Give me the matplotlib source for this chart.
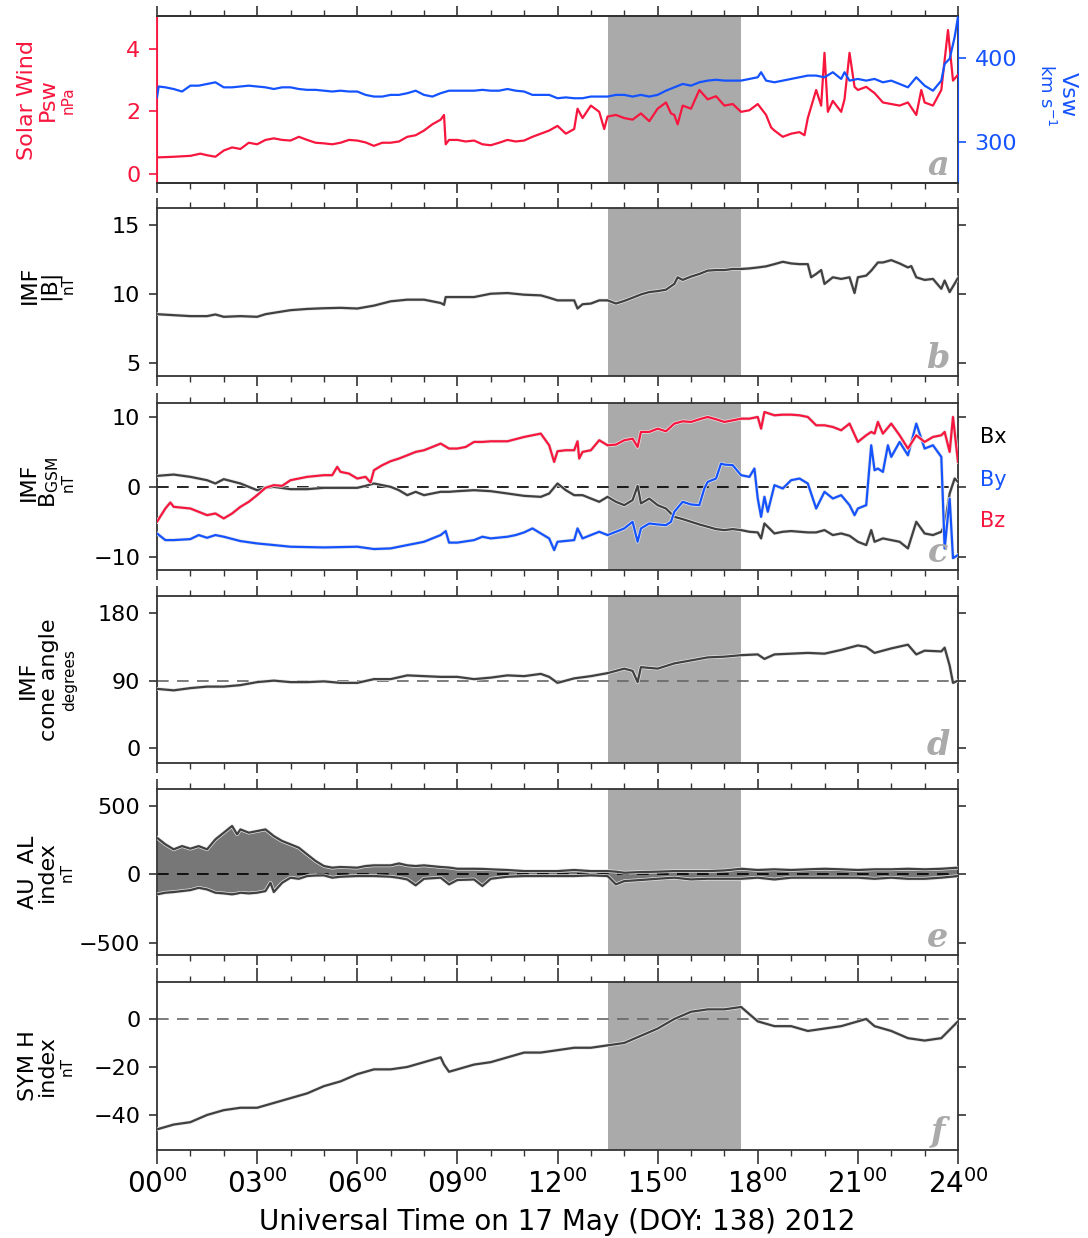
import matplotlib
matplotlib.use("Agg")
import matplotlib.pyplot as plt
import matplotlib.patheffects as pe
from matplotlib import font_manager
from matplotlib.ticker import MultipleLocator
import numpy as np

# ---- panel a: solar wind dynamic pressure (nPa) and speed (km/s)
t_psw = [0, 0.5, 1, 1.3, 1.5, 1.75, 2, 2.25, 2.5, 2.75, 3, 3.25, 3.5, 3.75, 4, 4.25, 4.5, 4.75,
         5, 5.25, 5.5, 5.75, 6, 6.25, 6.5, 6.75, 7, 7.25, 7.5, 7.75, 8, 8.25, 8.5, 8.6, 8.65, 8.75,
         9, 9.25, 9.5, 9.75, 10, 10.25, 10.5, 10.75, 11, 11.25, 11.5, 11.75, 12, 12.25, 12.5, 12.6,
         12.75, 13, 13.25, 13.4, 13.5, 13.75, 14, 14.25, 14.5, 14.75, 15, 15.25, 15.4, 15.5, 15.6,
         15.75, 16, 16.25, 16.5, 16.75, 17, 17.25, 17.5, 17.75, 18, 18.25, 18.4, 18.5, 18.75, 19,
         19.25, 19.4, 19.5, 19.75, 19.9, 20, 20.1, 20.25, 20.5, 20.6, 20.75, 20.9, 21, 21.25, 21.5,
         21.75, 22, 22.25, 22.5, 22.75, 22.9, 23, 23.25, 23.5, 23.7, 23.85, 24]
psw = [0.52, 0.54, 0.57, 0.64, 0.59, 0.54, 0.74, 0.84, 0.79, 0.99, 0.94, 1.08, 1.13, 1.08, 1.06,
       1.18, 1.08, 0.99, 0.97, 0.94, 0.99, 1.08, 1.06, 1.0, 0.89, 0.99, 0.99, 1.03, 1.18, 1.23,
       1.38, 1.58, 1.73, 1.88, 0.94, 1.08, 1.08, 1.03, 1.06, 0.94, 0.91, 0.99, 1.08, 1.03, 1.06,
       1.18, 1.28, 1.38, 1.53, 1.28, 1.43, 2.08, 1.78, 2.18, 1.98, 1.43, 1.83, 1.88, 1.78, 1.73,
       1.93, 1.68, 2.08, 2.28, 1.93, 1.88, 1.58, 2.18, 2.08, 2.68, 2.38, 2.48, 2.18, 2.23, 1.98,
       2.03, 2.23, 1.88, 1.48, 1.38, 1.18, 1.28, 1.33, 1.23, 1.78, 2.68, 2.18, 3.87, 1.98, 2.33,
       1.98, 2.38, 3.87, 2.78, 2.68, 2.78, 2.58, 2.28, 2.23, 2.18, 2.28, 1.88, 2.68, 2.28, 2.18,
       2.68, 4.6, 2.98, 3.17]

t_vsw = [0, 0.05, 0.25, 0.5, 0.75, 1, 1.25, 1.5, 1.75, 2, 2.25, 2.5, 2.75, 3, 3.25, 3.5, 3.75, 4,
         4.25, 4.5, 4.75, 5, 5.25, 5.5, 5.75, 6, 6.25, 6.5, 6.75, 7, 7.25, 7.5, 7.75, 8, 8.25, 8.5,
         8.75, 9, 9.25, 9.5, 9.75, 10, 10.25, 10.5, 10.75, 11, 11.25, 11.5, 11.75, 12, 12.25, 12.5,
         12.75, 13, 13.25, 13.5, 13.75, 14, 14.25, 14.5, 14.75, 15, 15.25, 15.5, 15.75, 16, 16.25,
         16.5, 16.75, 17, 17.25, 17.5, 17.75, 18, 18.1, 18.25, 18.5, 18.75, 19, 19.25, 19.5, 19.75,
         20, 20.25, 20.5, 20.6, 20.75, 21, 21.25, 21.5, 21.75, 22, 22.25, 22.5, 22.75, 23, 23.25,
         23.5, 23.6, 23.75, 23.9, 24]
vsw = [353, 366, 365, 363, 360, 367, 367, 369, 371, 365, 365, 366, 367, 366, 365, 363, 365, 365,
       363, 362, 362, 361, 360, 361, 360, 360, 356, 354, 354, 356, 356, 358, 361, 356, 354, 358,
       361, 361, 361, 361, 362, 361, 361, 363, 361, 360, 356, 356, 356, 352, 353, 352, 352, 354,
       354, 354, 356, 356, 354, 356, 354, 356, 361, 365, 369, 367, 371, 373, 374, 373, 373, 373,
       375, 377, 383, 373, 371, 373, 375, 377, 379, 379, 377, 383, 375, 383, 373, 375, 373, 375,
       371, 373, 369, 365, 377, 367, 361, 373, 393, 399, 425, 449]

# ---- panel b: IMF |B| (nT)
t_bt = [0, 0.5, 1, 1.5, 1.75, 2, 2.5, 3, 3.25, 3.5, 4, 4.5, 5, 5.5, 6, 6.5, 7, 7.5, 8, 8.5, 8.6,
        8.65, 9, 9.5, 10, 10.5, 11, 11.5, 11.75, 12, 12.5, 12.6, 12.75, 13, 13.25, 13.5, 13.75, 14,
        14.25, 14.5, 14.75, 15, 15.25, 15.5, 15.6, 15.75, 16, 16.25, 16.5, 16.75, 17, 17.25, 17.5,
        17.75, 18, 18.25, 18.5, 18.75, 19, 19.25, 19.5, 19.6, 19.75, 19.9, 20, 20.25, 20.5, 20.75,
        20.9, 21, 21.25, 21.4, 21.6, 21.75, 22, 22.25, 22.5, 22.6, 22.75, 23, 23.25, 23.5, 23.6,
        23.75, 24]
bt = [8.52, 8.45, 8.38, 8.38, 8.5, 8.33, 8.38, 8.33, 8.52, 8.62, 8.81, 8.9, 8.95, 8.98, 8.93,
      9.14, 9.45, 9.57, 9.57, 9.33, 9.2, 9.76, 9.76, 9.76, 10.0, 10.05, 9.93, 9.88, 9.71, 9.52,
      9.52, 8.93, 9.24, 9.29, 9.52, 9.52, 9.29, 9.48, 9.71, 9.95, 10.12, 10.19, 10.29, 10.71,
      11.19, 11.0, 11.24, 11.43, 11.67, 11.71, 11.71, 11.79, 11.79, 11.83, 11.9, 11.98, 12.14,
      12.31, 12.19, 12.14, 12.14, 11.19, 11.43, 11.71, 10.71, 11.19, 11.07, 11.19, 10.05, 11.19,
      11.31, 11.67, 12.26, 12.26, 12.43, 12.19, 11.9, 12.0, 11.19, 11.0, 11.07, 10.36, 10.95,
      10.12, 11.14]

# ---- panel c: IMF components in GSM (nT)
t_bx = [0, 0.5, 1, 1.5, 1.75, 2, 2.5, 3, 3.25, 3.5, 4, 4.5, 5, 5.5, 6, 6.25, 6.5, 7, 7.25, 7.5,
        7.75, 8, 8.5, 8.75, 9, 9.5, 10, 10.5, 11, 11.5, 11.75, 12, 12.25, 12.5, 12.75, 13, 13.25,
        13.5, 13.75, 14, 14.25, 14.4, 14.5, 14.75, 15, 15.25, 15.5, 15.75, 16, 16.25, 16.5, 16.75,
        17, 17.25, 17.5, 17.75, 18, 18.1, 18.2, 18.5, 18.75, 19, 19.5, 19.75, 20, 20.25, 20.5,
        20.75, 21, 21.25, 21.4, 21.5, 21.75, 22, 22.25, 22.5, 22.75, 23, 23.25, 23.5, 23.6, 23.75,
        23.9, 24]
bx = [1.57, 1.76, 1.43, 0.95, 0.48, 1.1, 0.48, -0.48, -0.14, 0, -0.33, -0.33, -0.14, -0.14,
      -0.14, 0.14, 0.48, 0, -0.48, -1.19, -0.71, -1.19, -0.71, -0.71, -0.62, -0.48, -0.62, -0.95,
      -1.29, -1.43, -0.95, 0.48, -0.48, -1.19, -1.19, -1.67, -2.14, -1.43, -2.14, -2.62, -1.9,
      0.14, -2.38, -1.67, -2.62, -3.1, -4.29, -4.62, -5.0, -5.38, -5.71, -6.05, -6.19, -6.05,
      -6.19, -6.43, -6.52, -7.38, -5.24, -6.67, -6.43, -6.33, -6.52, -6.52, -6.19, -6.9, -6.67,
      -7.0, -7.86, -8.33, -6.19, -7.86, -7.38, -7.62, -7.86, -8.81, -5.0, -6.67, -6.9, -6.43,
      -5.48, -0.95, 1.19, 0.71]

t_by = [0, 0.25, 0.5, 1, 1.25, 1.5, 1.75, 2, 2.5, 3, 3.5, 4, 5, 6, 6.5, 7, 7.5, 7.75, 8, 8.5,
        8.65, 8.75, 9, 9.5, 9.75, 10, 10.5, 10.75, 11, 11.25, 11.5, 11.75, 11.9, 12, 12.5, 12.6,
        12.75, 13, 13.25, 13.5, 13.75, 14, 14.25, 14.4, 14.5, 14.75, 15, 15.25, 15.4, 15.5, 15.75,
        16, 16.25, 16.4, 16.5, 16.75, 16.9, 17, 17.25, 17.5, 17.75, 17.9, 18, 18.1, 18.2, 18.3,
        18.5, 18.75, 19, 19.25, 19.5, 19.75, 20, 20.25, 20.5, 20.75, 20.9, 21, 21.25, 21.4, 21.5,
        21.6, 21.75, 21.9, 22, 22.25, 22.5, 22.75, 23, 23.25, 23.5, 23.6, 23.75, 23.85, 24]
by = [-6.67, -7.62, -7.62, -7.48, -6.9, -7.29, -6.9, -7.14, -7.76, -8.1, -8.33, -8.57, -8.67,
      -8.57, -8.9, -8.81, -8.33, -8.1, -7.86, -6.9, -6.33, -7.98, -7.98, -7.62, -7.14, -7.38,
      -7.14, -6.9, -6.52, -5.95, -6.67, -7.38, -9.05, -7.86, -7.62, -5.95, -7.38, -6.9, -6.43,
      -6.9, -6.43, -5.95, -5.0, -7.86, -5.95, -5.24, -5.38, -5.48, -5.0, -3.57, -2.14, -2.52,
      -2.62, -0.24, 0.71, 1.19, 3.33, 3.19, 3.1, 1.67, 1.43, 2.62, -1.67, -4.29, -1.43, -3.57,
      0.24, -0.24, 0.95, 1.19, 0.48, -3.1, -0.71, -1.67, -1.19, -2.62, -4.05, -3.1, -2.62, 5.95,
      2.38, 2.62, 2.14, 5.95, 4.29, 6.43, 4.52, 9.05, 5.48, 5.95, 4.29, -8.81, -1.67, -10.2,
      -9.76]

t_bz = [0, 0.25, 0.4, 0.5, 1, 1.5, 1.75, 2, 2.25, 2.5, 2.75, 3, 3.25, 3.5, 3.75, 4, 4.5, 5, 5.25,
        5.4, 5.5, 5.75, 6, 6.25, 6.4, 6.5, 6.75, 7, 7.25, 7.5, 7.75, 8, 8.25, 8.5, 8.75, 9, 9.25,
        9.5, 9.75, 10, 10.5, 11, 11.5, 11.75, 11.9, 12, 12.25, 12.5, 12.6, 12.65, 12.75, 13, 13.25,
        13.5, 13.75, 14, 14.25, 14.4, 14.5, 14.75, 15, 15.25, 15.5, 15.75, 16, 16.25, 16.5, 16.75,
        17, 17.25, 17.5, 17.75, 18, 18.1, 18.2, 18.5, 18.75, 19, 19.25, 19.5, 19.75, 20, 20.25,
        20.5, 20.75, 21, 21.25, 21.4, 21.5, 21.6, 21.75, 22, 22.25, 22.5, 22.75, 23, 23.25, 23.5,
        23.6, 23.75, 23.85, 24]
bz = [-5.0, -3.1, -2.24, -2.86, -3.1, -4.05, -3.81, -4.52, -3.81, -2.86, -2.14, -1.19, -0.14,
      0.24, 0.14, 0.95, 1.43, 1.67, 1.67, 2.86, 2.14, 1.9, 1.19, 1.43, 0.62, 2.38, 3.1, 3.67,
      4.05, 4.52, 5.0, 5.24, 5.71, 6.19, 5.48, 5.48, 5.71, 6.43, 6.43, 6.52, 6.52, 7.14, 7.62,
      5.95, 3.57, 5.1, 5.24, 5.24, 6.52, 4.05, 5.0, 5.24, 6.67, 5.95, 6.05, 6.67, 6.9, 5.71, 7.86,
      7.86, 8.33, 7.95, 9.05, 9.38, 9.29, 9.67, 10.0, 9.67, 9.29, 9.52, 9.76, 9.76, 10.0, 8.33,
      10.71, 10.24, 10.33, 10.33, 10.24, 10.0, 8.81, 8.81, 8.57, 8.1, 9.05, 6.43, 7.38, 7.86,
      7.62, 9.29, 7.62, 9.05, 7.38, 5.48, 7.38, 6.43, 7.14, 7.38, 7.86, 5.0, 10.0, 3.57]

# ---- panel d: IMF cone angle (degrees)
t_cone = [0, 0.5, 1, 1.5, 2, 2.5, 3, 3.5, 4, 4.5, 5, 5.5, 6, 6.5, 7, 7.5, 8, 8.5, 9, 9.5, 10,
          10.5, 11, 11.5, 11.75, 12, 12.5, 13, 13.5, 13.75, 14, 14.25, 14.4, 14.5, 15, 15.5, 16,
          16.5, 17, 17.5, 18, 18.2, 18.5, 19, 19.5, 20, 20.5, 21, 21.25, 21.5, 22, 22.5, 22.75, 23,
          23.5, 23.6, 23.75, 23.85, 24]
cone = [79, 77, 80, 82, 82, 84, 88, 90, 88, 88, 89, 87, 87, 92, 92, 97, 96, 95, 95, 92, 94, 97,
        96, 99, 95, 87, 93, 96, 100, 103, 106, 103, 88, 108, 106, 113, 117, 121, 122, 124, 125,
        119, 125, 126, 127, 126, 131, 137, 135, 127, 133, 138, 125, 130, 129, 134, 110, 87, 90]

# ---- panel e: AU and AL indices (nT)
t_ae = [0, 0.25, 0.5, 0.75, 1, 1.25, 1.5, 1.75, 2, 2.25, 2.4, 2.5, 2.75, 3, 3.25, 3.4, 3.5, 3.75,
        4, 4.25, 4.5, 4.75, 5, 5.25, 5.5, 6, 6.25, 6.5, 7, 7.25, 7.5, 7.75, 8, 8.5, 8.75, 9, 9.5,
        9.75, 10, 10.5, 11, 11.5, 12, 12.5, 13, 13.5, 13.75, 14, 14.5, 15, 15.5, 16, 16.5, 17,
        17.5, 18, 18.5, 19, 19.5, 20, 20.5, 21, 21.5, 22, 22.5, 23, 23.5, 24]
au = [268, 220, 183, 207, 188, 207, 183, 256, 305, 354, 293, 329, 305, 317, 329, 300, 280, 244,
      220, 195, 146, 98, 61, 49, 54, 49, 61, 66, 66, 80, 66, 61, 66, 54, 50, 41, 41, 40, 37, 32,
      24, 24, 24, 32, 24, 24, 20, 12, 17, 20, 24, 24, 24, 29, 41, 32, 37, 32, 37, 41, 37, 32, 37,
      37, 41, 37, 41, 49]
al = [-146, -134, -129, -122, -115, -98, -110, -134, -139, -146, -140, -134, -139, -134, -122,
      -61, -129, -61, -24, -32, -12, -8, -7, -24, -17, -12, -12, -12, -17, -25, -37, -80, -32,
      -24, -73, -41, -37, -85, -32, -17, -12, -12, -12, -12, -7, -12, -73, -49, -41, -32, -24,
      -37, -32, -32, -32, -24, -37, -24, -24, -24, -24, -24, -32, -24, -32, -32, -24, -12]

# ---- panel f: SYM-H index (nT)
t_symh = [0, 0.5, 1, 1.5, 2, 2.5, 3, 3.5, 4, 4.5, 5, 5.5, 6, 6.5, 7, 7.5, 8, 8.5, 8.6, 8.75, 9,
          9.5, 10, 10.5, 11, 11.5, 12, 12.5, 13, 13.5, 14, 14.5, 15, 15.5, 16, 16.5, 17, 17.5,
          17.75, 18, 18.5, 19, 19.5, 20, 20.5, 21, 21.25, 21.5, 22, 22.5, 23, 23.5, 24]
symh = [-46, -44, -43, -40, -38, -37, -37, -35, -33, -31, -28, -26, -23, -21, -21, -20, -18, -16,
        -19, -22, -21, -19, -18, -16, -14, -14, -13, -12, -12, -11, -10, -7, -4, 0, 3, 4, 4, 5,
        2, -1, -3, -3, -5, -4, -3, -1, 0, -3, -5, -8, -9, -8, -1]

hour_labels = ["00", "03", "06", "09", "12", "15", "18", "21", "24"]
shade_start, shade_end = 13.5, 17.5

W, H = 1088, 1238
RED = "#f7163e"
BLUE = "#1453ff"
DARK = "#404040"
SHADE = "#aaaaaa"
LETTER = "#aaaaaa"

names = {f.name for f in font_manager.fontManager.ttflist}
narrow = "Liberation Sans Narrow" if "Liberation Sans Narrow" in names else "DejaVu Sans"
plt.rcParams["font.family"] = ["DejaVu Sans"]
plt.rcParams["mathtext.default"] = "regular"

fig = plt.figure(figsize=(W / 100, H / 100), dpi=100)

# panel extents in pixels (top, bottom)
panels = [(16, 183), (208, 376), (403, 570), (596, 763), (789, 955), (982, 1150)]
left_px, right_px = 157, 958
axes = []
for top, bot in panels:
    ax = fig.add_axes([left_px / W, 1 - bot / H, (right_px - left_px) / W, (bot - top) / H])
    axes.append(ax)

halo = [pe.Stroke(linewidth=2.6, foreground="#e6e6e6"), pe.Normal()]


def style(ax, letter, last=False):
    ax.set_xlim(0, 24)
    ax.axvspan(shade_start, shade_end, color=SHADE, lw=0, zorder=0)
    ax.xaxis.set_major_locator(MultipleLocator(3))
    ax.xaxis.set_minor_locator(MultipleLocator(1))
    ax.tick_params(axis="x", which="major", direction="out", length=7, width=1.2,
                   top=True, bottom=True, color="#333333")
    ax.tick_params(axis="x", which="minor", direction="out", length=4.5, width=1.0,
                   top=True, bottom=True, color="#333333")
    ax.tick_params(axis="y", which="major", direction="out", length=6, width=1.2,
                   left=True, right=True, labelsize=16, pad=6, color="#333333")
    for s in ax.spines.values():
        s.set_color("#333333")
        s.set_linewidth(1.3)
    if last:
        ax.set_xticks(range(0, 25, 3))
        ax.set_xticklabels([r"$%s^{00}$" % h for h in hour_labels], fontsize=20,
                           family=narrow)
        ax.tick_params(axis="x", which="major", length=10, pad=4)
    else:
        ax.set_xticklabels([])
    ax.text(0.975, 0.05, letter, transform=ax.transAxes, ha="center", va="baseline",
            fontsize=24, color=LETTER, family="DejaVu Serif", style="italic",
            weight="bold", zorder=5)


def ylab(x, y, s, size=16, color="black", rot=90):
    fig.text(x / W, 1 - y / H, s, rotation=rot, ha="center", va="center",
             fontsize=size, color=color)


# panel a
ax = axes[0]
style(ax, "a")
ax.plot(t_psw, psw, color=RED, lw=1.6, zorder=3)
ax.set_ylim(-0.3, 5.05)
ax.set_yticks([0, 2, 4])
ax.spines["left"].set_color(RED)
ax.tick_params(axis="y", colors=RED, right=False)
axr = ax.twinx()
axr.plot(t_vsw, vsw, color=BLUE, lw=1.6, zorder=3)
axr.set_ylim(251, 450)
axr.set_yticks([300, 400])
axr.tick_params(axis="y", direction="out", length=6, width=1.2, labelsize=16, pad=6,
                colors=BLUE)
axr.spines["right"].set_color(BLUE)
axr.spines["left"].set_color(RED)
for s in ["top", "bottom"]:
    axr.spines[s].set_color("#333333")
    axr.spines[s].set_linewidth(1.3)
ylab(27, 100, "Solar Wind", color=RED)
ylab(48, 100, "Psw", color=RED)
ylab(68, 100, "nPa", size=11, color=RED)
ylab(1068, 95, "Vsw", color=BLUE, rot=270)
ylab(1046, 95, r"km s$^{-1}$", size=13, color=BLUE, rot=270)

# panel b
ax = axes[1]
style(ax, "b")
ax.plot(t_bt, bt, color=DARK, lw=1.6, zorder=3, path_effects=halo)
ax.set_ylim(4.05, 16.2)
ax.set_yticks([5, 10, 15])
ylab(30, 285, "IMF")
ylab(49, 285, "|B|")
ylab(68, 285, "nT", size=11)

# panel c
ax = axes[2]
style(ax, "c")
ax.axhline(0, color="black", lw=1.2, ls=(0, (7, 5)), zorder=2)
ax.plot(t_bx, bx, color=DARK, lw=1.6, zorder=3, path_effects=halo)
ax.plot(t_by, by, color=BLUE, lw=1.6, zorder=3, path_effects=halo)
ax.plot(t_bz, bz, color=RED, lw=1.6, zorder=3, path_effects=halo)
ax.set_ylim(-11.9, 12)
ax.set_yticks([-10, 0, 10])
ax.set_yticklabels(["\u221210", "0", "10"])
ylab(29, 482, "IMF")
ylab(49, 482, r"B$_{\rm GSM}$")
ylab(68, 482, "nT", size=11)
fig.text(980 / W, 1 - 437 / H, "Bx", color="black", fontsize=15, va="center")
fig.text(980 / W, 1 - 480 / H, "By", color=BLUE, fontsize=15, va="center")
fig.text(980 / W, 1 - 521 / H, "Bz", color=RED, fontsize=15, va="center")

# panel d
ax = axes[3]
style(ax, "d")
ax.axhline(90, color="#666666", lw=1.2, ls=(0, (7, 5)), zorder=2)
ax.plot(t_cone, cone, color=DARK, lw=1.6, zorder=3, path_effects=halo)
ax.set_ylim(-20, 203)
ax.set_yticks([0, 90, 180])
ylab(28, 680, "IMF")
ylab(49, 680, "cone angle")
ylab(70, 680, "degrees", size=11)

# panel e
ax = axes[4]
style(ax, "e")
ax.fill_between(t_ae, al, au, color="#777777", lw=0, zorder=2)
ax.axhline(0, color="black", lw=1.2, ls=(0, (7, 5)), zorder=2.5)
ax.plot(t_ae, au, color=DARK, lw=1.6, zorder=3, path_effects=halo)
ax.plot(t_ae, al, color=DARK, lw=1.6, zorder=3, path_effects=halo)
ax.set_ylim(-590, 625)
ax.set_yticks([-500, 0, 500])
ax.set_yticklabels(["\u2212500", "0", "500"])
ylab(28, 872, "AU  AL")
ylab(47, 872, "index")
ylab(67, 872, "nT", size=11)

# panel f
ax = axes[5]
style(ax, "f", last=True)
ax.axhline(0, color="#666666", lw=1.2, ls=(0, (7, 5)), zorder=2)
ax.plot(t_symh, symh, color=DARK, lw=1.6, zorder=3, path_effects=halo)
ax.set_ylim(-54.6, 15.4)
ax.set_yticks([-40, -20, 0])
ax.set_yticklabels(["\u221240", "\u221220", "0"])
ylab(28, 1066, "SYM H")
ylab(47, 1066, "index")
ylab(67, 1066, "nT", size=11)
fig.text(557 / W, 1 - 1222 / H, "Universal Time on 17 May (DOY: 138) 2012",
         ha="center", va="center", fontsize=20, family=narrow)

fig.savefig("out.png", dpi=100)
